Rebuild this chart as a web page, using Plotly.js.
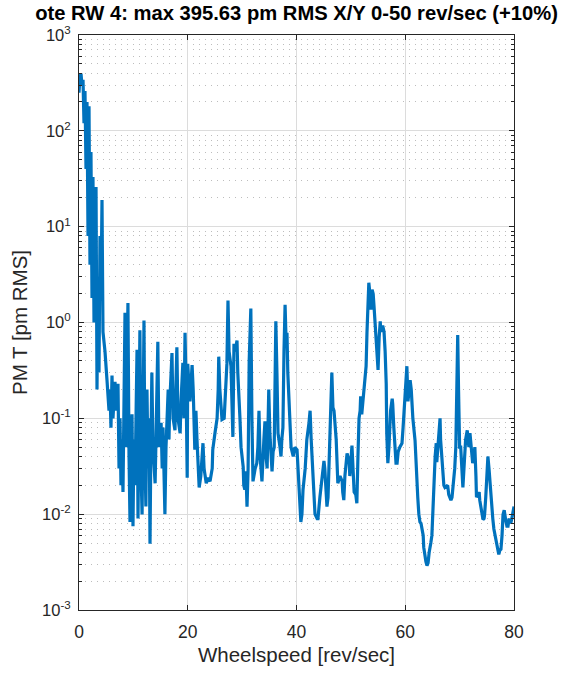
<!DOCTYPE html>
<html>
<head>
<meta charset="utf-8">
<script src="https://cdn.plot.ly/plotly-3.0.1.min.js"></script>
<style>html,body{margin:0;padding:0;background:#fff;}#chart{width:566px;height:673px;}</style>
</head>
<body>
<div id="chart"></div>
<script>
// Wheelspeed [rev/sec]
const wheelspeed = [0.0,0.18,0.37,0.55,0.74,0.92,1.1,1.29,1.47,1.66,1.84,2.02,2.2,2.39,2.57,2.76,2.94,3.13,3.31,3.49,3.68,3.86,4.05,4.23,4.41,4.78,5.15,5.52,5.7,5.88,6.07,6.25,6.62,6.8,7.17,7.36,7.54,7.72,7.9,8.09,8.46,8.64,8.83,9.0,9.2,9.38,9.56,9.75,9.93,10.1,10.3,10.67,10.85,11.0,11.2,11.4,11.6,11.77,11.95,12.1,12.3,12.5,12.7,12.9,13.06,13.2,13.4,13.6,14.0,14.2,14.5,14.7,15.1,15.3,15.45,15.8,16.0,16.4,16.55,16.7,17.1,17.3,17.65,17.8,18.0,18.2,18.6,18.76,19.1,19.3,19.5,19.7,19.9,20.0,20.4,20.8,21.0,21.3,21.5,21.7,22.1,22.4,22.8,23.0,23.4,23.7,24.1,24.5,24.6,25.0,25.4,25.6,25.7,25.9,26.3,26.7,27.0,27.2,27.4,27.6,27.95,28.1,28.3,28.5,28.7,29.06,29.2,29.6,29.8,30.2,30.3,30.5,30.7,30.9,31.1,31.3,31.6,31.8,32.0,32.4,32.7,32.9,33.1,33.3,33.65,34.0,34.2,34.4,34.6,34.9,35.1,35.5,35.7,35.9,36.2,36.4,36.6,36.97,37.15,37.3,37.5,37.7,37.9,38.1,38.25,38.4,38.8,39.0,39.4,39.7,40.1,40.3,40.5,40.8,41.0,41.2,41.6,41.9,42.3,42.5,42.7,43.0,43.4,43.8,43.95,44.3,44.7,45.05,45.2,45.6,45.8,46.2,46.3,46.5,46.7,46.9,47.3,47.4,47.6,48.0,48.4,48.5,48.7,48.9,49.3,49.7,49.8,50.2,50.4,50.6,50.9,51.1,51.3,51.5,51.7,51.8,52.0,52.2,52.6,52.8,52.96,53.15,53.3,53.5,53.7,53.9,54.1,54.25,54.4,54.6,54.8,55.0,55.2,55.4,55.5,55.7,55.9,56.1,56.3,56.5,56.6,56.8,57.0,57.2,57.3,57.6,57.7,57.9,58.1,58.3,58.5,58.7,59.0,59.4,59.6,59.95,60.1,60.3,60.5,60.7,60.9,61.1,61.2,61.4,61.8,61.96,62.2,62.3,62.5,62.7,62.9,63.1,63.3,63.4,63.6,63.8,64.0,64.2,64.4,64.55,64.7,64.9,65.1,65.3,65.5,65.7,65.8,66.0,66.2,66.4,66.5,66.7,66.9,67.1,67.3,67.7,67.8,68.0,68.2,68.4,68.6,68.75,68.9,69.1,69.3,69.5,69.65,69.8,70.0,70.2,70.4,70.6,70.8,71.0,71.1,71.4,71.5,71.7,71.9,72.1,72.2,72.4,72.6,72.8,73.0,73.1,73.4,73.6,73.7,73.9,74.1,74.3,74.5,74.6,74.8,75.0,75.2,75.4,75.6,75.7,75.9,76.1,76.3,76.5,76.7,76.9,77.05,77.2,77.4,77.6,77.8,77.98,78.2,78.3,78.5,78.7,78.9,79.1,79.3,79.4,79.6,79.8,80.0];
// PM T [pm RMS]
const pmtRms = [250,370,395.63,300,340,120,260,40,200,8,180,4,60,1.8,33,1.0,15,26,0.2,3,0.3,8,2,19,0.8,0.5,0.25,0.12,0.2,0.08,0.28,0.1,0.24,0.12,0.23,0.03,0.1,0.02,0.06,0.017,1.26,0.05,0.3,1.6,0.04,0.0083,0.05,0.11,0.0075,0.06,0.02,0.52,0.009,0.1,0.83,0.03,0.0099,0.08,1.05,0.05,0.012,0.2,0.03,0.1,0.0049,0.04,0.3,0.05,0.021,0.08,0.63,0.05,0.09,0.03,0.08,0.01,0.05,0.2,0.06,0.15,0.48,0.1,0.075,0.2,0.55,0.1,0.07,0.15,0.38,0.1,0.78,0.2,0.024,0.37,0.15,0.36,0.2,0.047,0.12,0.06,0.019,0.025,0.055,0.03,0.021,0.024,0.022,0.03,0.047,0.07,0.1,0.2,0.44,0.2,0.097,0.1,0.25,0.37,1.7,0.5,0.35,0.15,0.064,0.6,0.5,0.65,0.3,0.1,0.05,0.031,0.02,0.018,0.028,0.012,0.03,0.4,1.4,0.1,0.022,0.03,0.034,0.05,0.12,0.04,0.022,0.06,0.093,0.04,0.03,0.2,0.07,0.028,0.045,0.05,1.03,0.3,0.07,0.05,0.04,0.06,0.08,0.5,1.53,0.6,0.78,0.3,0.075,0.05,0.04,0.05,0.047,0.03,0.018,0.0083,0.01,0.018,0.03,0.06,0.09,0.12,0.06,0.024,0.01,0.009,0.009,0.015,0.025,0.036,0.03,0.012,0.015,0.064,0.12,0.3,0.13,0.12,0.06,0.047,0.021,0.025,0.022,0.017,0.014,0.025,0.043,0.035,0.025,0.052,0.03,0.017,0.016,0.013,0.04,0.1,0.12,0.17,0.11,0.15,0.23,0.35,0.78,1.5,2.6,2.0,1.36,2.2,2.0,1.5,1.14,0.8,0.6,0.32,0.7,1.03,0.8,0.9,0.9,0.8,0.5,0.23,0.07,0.034,0.05,0.08,0.12,0.16,0.14,0.08,0.05,0.034,0.034,0.045,0.05,0.055,0.08,0.16,0.25,0.35,0.15,0.2,0.25,0.2,0.15,0.1,0.059,0.035,0.021,0.015,0.01,0.0083,0.008,0.007,0.006,0.0045,0.0037,0.0032,0.0029,0.0031,0.004,0.0049,0.005,0.006,0.012,0.025,0.04,0.055,0.035,0.05,0.07,0.1,0.06,0.04,0.025,0.02,0.019,0.02,0.02,0.016,0.015,0.014,0.015,0.018,0.02,0.03,0.05,0.2,0.74,0.2,0.05,0.05,0.03,0.019,0.03,0.045,0.06,0.075,0.06,0.05,0.07,0.05,0.04,0.034,0.04,0.05,0.025,0.015,0.016,0.017,0.014,0.012,0.01,0.0088,0.009,0.01,0.015,0.025,0.04,0.03,0.02,0.016,0.013,0.009,0.007,0.006,0.005,0.0045,0.004,0.0038,0.0042,0.0043,0.006,0.0099,0.011,0.0095,0.0085,0.0075,0.0075,0.009,0.008,0.008,0.009,0.011,0.012];

const xTickVals = [0, 20, 40, 60, 80];
const yTickVals = [0.001, 0.01, 0.1, 1, 10, 100, 1000];
const yTickText = ['10<sup>-3</sup>','10<sup>-2</sup>','10<sup>-1</sup>','10<sup>0</sup>','10<sup>1</sup>','10<sup>2</sup>','10<sup>3</sup>'];

const titleText = 'ote RW 4: max 395.63 pm RMS X/Y 0-50 rev/sec (+10%)';
const xTitle = 'Wheelspeed [rev/sec]';
const yTitle = 'PM T [pm RMS]';

const fontFam = 'Liberation Sans, Arial, Helvetica, sans-serif';
const axisCol = '#262626';
const gridCol = '#dcdcdc';

const trace = {
  x: wheelspeed, y: pmtRms, type: 'scatter', mode: 'lines',
  line: {color: '#0072BD', width: 3.2, shape: 'linear'},
  hoverinfo: 'skip'
};

const layout = {
  width: 566, height: 673,
  margin: {l: 79, r: 52, t: 35, b: 63, pad: 0},
  paper_bgcolor: '#fff', plot_bgcolor: '#fff',
  showlegend: false,
  title: {text: '<b>' + titleText + '</b>', font: {family: fontFam, size: 20.2, color: '#000'},
          x: 0.524, xanchor: 'center', y: 0.981, yanchor: 'middle'},
  xaxis: {
    range: [0, 80], tickvals: xTickVals, ticktext: xTickVals.map(String),
    ticks: 'inside', ticklen: 5, tickcolor: axisCol, tickwidth: 1,
    showline: true, linecolor: axisCol, linewidth: 1, mirror: 'ticks',
    showgrid: true, gridcolor: gridCol, gridwidth: 1, zeroline: false,
    ticklabelstandoff: 6,
    tickfont: {family: fontFam, size: 17.5, color: axisCol},
    title: {text: xTitle, font: {family: fontFam, size: 20.5, color: axisCol}, standoff: 6}
  },
  yaxis: {
    type: 'log', range: [-3, 3], tickvals: yTickVals, ticktext: yTickText,
    ticks: 'inside', ticklen: 5, tickcolor: axisCol, tickwidth: 1,
    showline: true, linecolor: axisCol, linewidth: 1, mirror: 'ticks',
    showgrid: true, gridcolor: gridCol, gridwidth: 1, zeroline: false,
    ticklabelstandoff: 4,
    tickfont: {family: fontFam, size: 16.5, color: axisCol},
    minor: {dtick: 'D1', ticks: 'inside', ticklen: 3, tickcolor: axisCol, showgrid: true, gridcolor: '#bdbdbd', griddash: '1px,5px', gridwidth: 1},
    title: {text: yTitle, font: {family: fontFam, size: 20.5, color: axisCol}, standoff: 8}
  }
};

Plotly.newPlot('chart', [trace], layout, {staticPlot: true, displayModeBar: false});
</script>
</body>
</html>
